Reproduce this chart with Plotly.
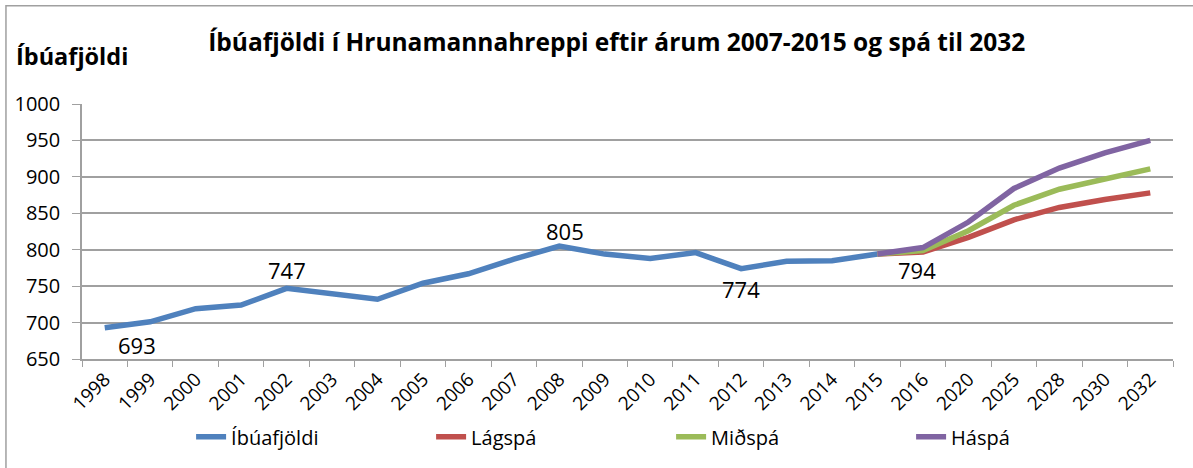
import plotly.graph_objects as go

# categories on the x axis
years = ["1998", "1999", "2000", "2001", "2002", "2003", "2004", "2005", "2006",
         "2007", "2008", "2009", "2010", "2011", "2012", "2013", "2014", "2015",
         "2016", "2020", "2025", "2028", "2030", "2032"]

# population, 1998-2015
ibuafjoldi = [693, 701, 719, 724, 747, 739, 732, 754, 767, 787, 805, 794, 788,
              796, 774, 784, 785, 794]

# forecasts, 2015-2032
spa_years = ["2015", "2016", "2020", "2025", "2028", "2030", "2032"]
lagspa = [794, 797, 817, 841, 858, 869, 878]
midspa = [794, 799, 826, 861, 883, 897, 911]
haspa = [794, 803, 838, 884, 912, 933, 950]

# which points carry a value label: (year, xshift px, yshift px)
label_points = [("1998", 32, -17), ("2002", 0, 18), ("2008", 6, 15),
                ("2012", 0, -20), ("2015", 39, -16)]

FONT = "Open Sans"
GRID = "#A0A0A0"

fig = go.Figure()
fig.add_trace(go.Scatter(x=years[:len(ibuafjoldi)], y=ibuafjoldi, mode="lines",
                         name="Íbúafjöldi", line=dict(color="#4F81BD", width=5.5)))
fig.add_trace(go.Scatter(x=spa_years, y=lagspa, mode="lines", name="Lágspá",
                         line=dict(color="#C0504D", width=5.5)))
fig.add_trace(go.Scatter(x=spa_years, y=midspa, mode="lines", name="Miðspá",
                         line=dict(color="#9BBB59", width=5.5)))
fig.add_trace(go.Scatter(x=spa_years, y=haspa, mode="lines", name="Háspá",
                         line=dict(color="#8064A2", width=5.5)))

for yr, dx, dy in label_points:
    i = years.index(yr)
    val = ibuafjoldi[i]
    fig.add_annotation(x=i, y=val, xref="x", yref="y", text=str(val), showarrow=False,
                       xshift=dx, yshift=dy,
                       font=dict(size=22, color="black", family=FONT))

fig.add_annotation(xref="paper", yref="paper", x=-0.062, y=1.19, xanchor="left",
                   yanchor="middle", text="<b>Íbúafjöldi</b>", showarrow=False,
                   font=dict(size=23.5, color="black", family=FONT))

# outer chart border (only top and left visible)
fig.add_shape(type="rect", xref="paper", yref="paper", x0=-0.0697, x1=1.2,
              y0=-0.6, y1=1.385, line=dict(color="#A0A0A0", width=1.5), layer="below")

fig.update_layout(
    width=1193, height=468,
    margin=dict(l=82, r=20, t=104, b=107),
    paper_bgcolor="white", plot_bgcolor="white",
    font=dict(family=FONT, color="black"),
    title=dict(text="<b>Íbúafjöldi í Hrunamannahreppi eftir árum 2007-2015 og spá til 2032</b>",
               x=0.517, xanchor="center", y=0.91, yanchor="middle",
               font=dict(size=24.5, family=FONT, color="black")),
    legend=dict(orientation="h", x=0.1, xanchor="left", y=-0.305, yanchor="middle",
                entrywidth=195, entrywidthmode="pixels", font=dict(size=20, family=FONT),
                bgcolor="rgba(0,0,0,0)"),
    showlegend=True,
)
fig.update_xaxes(type="category", categoryorder="array", categoryarray=years,
                 tickangle=-45, tickfont=dict(size=19), showgrid=False, automargin=False,
                 showline=True, linecolor=GRID, linewidth=1.5,
                 ticks="outside", tickson="boundaries", ticklen=6, tickcolor=GRID,
                 range=[-0.5, len(years) - 0.5])
fig.update_yaxes(range=[650, 1000], dtick=50, tickfont=dict(size=20), automargin=False,
                 showgrid=True, gridcolor=GRID, gridwidth=1.5,
                 showline=True, linecolor=GRID, linewidth=1.5, ticklabelstandoff=8,
                 ticks="outside", ticklen=8, tickcolor=GRID, zeroline=False)

fig.write_html("out.html", config={"displayModeBar": False},
               post_script="document.body.style.margin='0';")
